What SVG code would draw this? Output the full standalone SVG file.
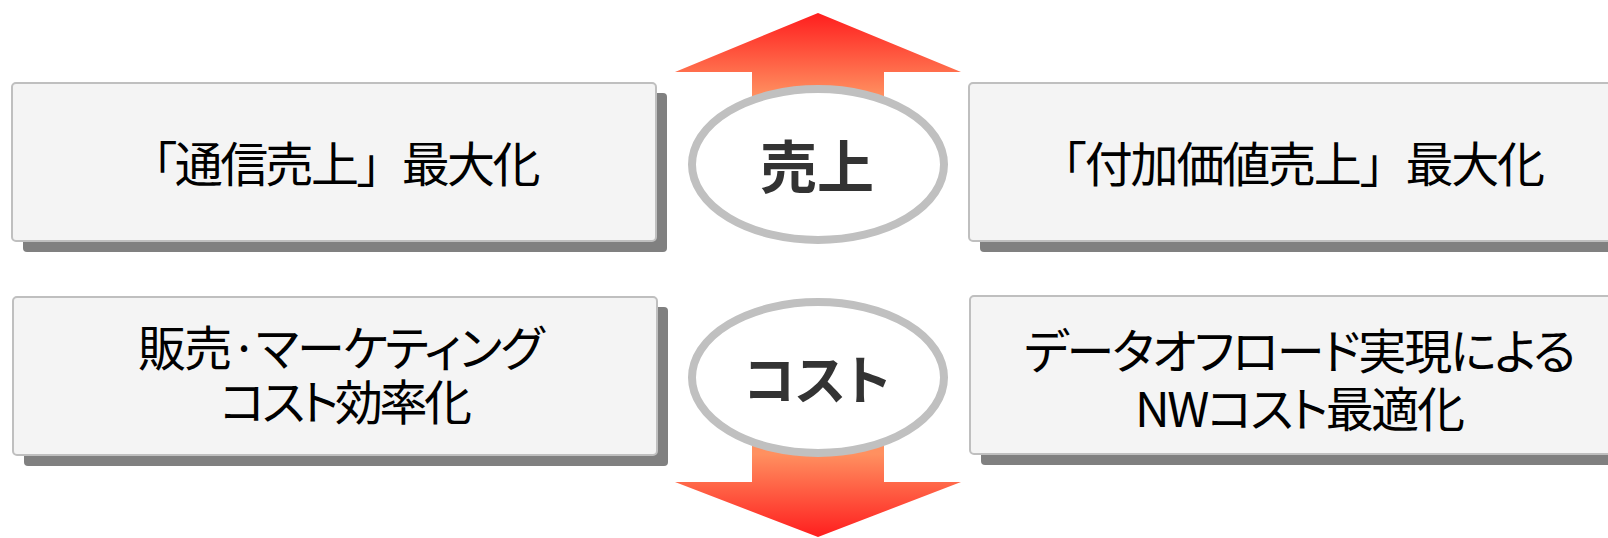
<svg xmlns="http://www.w3.org/2000/svg" width="1608" height="538" viewBox="0 0 1608 538">
  <defs>
    <linearGradient id="gUp" gradientUnits="userSpaceOnUse" x1="0" y1="13" x2="0" y2="96">
      <stop offset="0" stop-color="#ff1e1e"/>
      <stop offset="1" stop-color="#ff9060"/>
    </linearGradient>
    <linearGradient id="gDown" gradientUnits="userSpaceOnUse" x1="0" y1="537" x2="0" y2="454">
      <stop offset="0" stop-color="#ff1e1e"/>
      <stop offset="1" stop-color="#ff9060"/>
    </linearGradient>
    <style>
      .shadow { fill: #808080; }
      .box { fill: #f4f4f4; stroke: #bfbfbf; stroke-width: 2; }
      .oval { fill: #ffffff; stroke: #c0c0c0; stroke-width: 8; }
      .txt { font-family: "Noto Sans CJK JP", "Noto Sans", sans-serif; font-size: 48px; fill: #000000; text-anchor: middle; }
      .prop { font-feature-settings: "palt"; }
      .lbl { font-family: "Noto Sans CJK JP", "Noto Sans", sans-serif; font-size: 57px; font-weight: bold; fill: #333333; text-anchor: middle; }
      .lbl2 { font-size: 53px; font-feature-settings: "palt"; }
    </style>
  </defs>
  <rect width="1608" height="538" fill="#ffffff"/>

  <g id="arrows">
    <polygon points="818,13 961,72 884,72 884,165 752,165 752,72 675,72" fill="url(#gUp)"/>
    <polygon points="818,537 961,482 884,482 884,378 752,378 752,482 675,482" fill="url(#gDown)"/>
  </g>

  <g id="node-tsushin">
    <rect class="shadow" x="23" y="93" width="644" height="159" rx="4"/>
    <rect class="box" x="12" y="83" width="644" height="158" rx="4"/>
    <text class="txt" x="335" y="182" textLength="411" lengthAdjust="spacing">「通信売上」最大化</text>
  </g>

  <g id="node-fukakachi">
    <rect class="shadow" x="980" y="93" width="660" height="159" rx="4"/>
    <rect class="box" x="969" y="83" width="660" height="158" rx="4"/>
    <text class="txt" x="1292" y="182" textLength="506" lengthAdjust="spacing">「付加価値売上」最大化</text>
  </g>

  <g id="node-hanbai">
    <rect class="shadow" x="24" y="307" width="644" height="159" rx="4"/>
    <rect class="box" x="13" y="297" width="644" height="158" rx="4"/>
    <text class="txt prop" x="341" y="366" textLength="406" lengthAdjust="spacing">販売·マーケティング</text>
    <text class="txt prop" x="346" y="420" textLength="252" lengthAdjust="spacing">コスト効率化</text>
  </g>

  <g id="node-offload">
    <rect class="shadow" x="981" y="306" width="660" height="159" rx="4"/>
    <rect class="box" x="970" y="296" width="660" height="158" rx="4"/>
    <text class="txt prop" x="1300" y="369" textLength="552" lengthAdjust="spacing">データオフロード実現による</text>
    <text class="txt prop" x="1300" y="427" textLength="330" lengthAdjust="spacing">NWコスト最適化</text>
  </g>

  <g id="node-uriage">
    <ellipse class="oval" cx="818" cy="164.5" rx="126" ry="75.5"/>
    <text class="lbl" x="817" y="188" textLength="114" lengthAdjust="spacing">売上</text>
  </g>

  <g id="node-cost">
    <ellipse class="oval" cx="818" cy="377.5" rx="126" ry="75.5"/>
    <text class="lbl lbl2" x="817" y="400">コスト</text>
  </g>
</svg>
